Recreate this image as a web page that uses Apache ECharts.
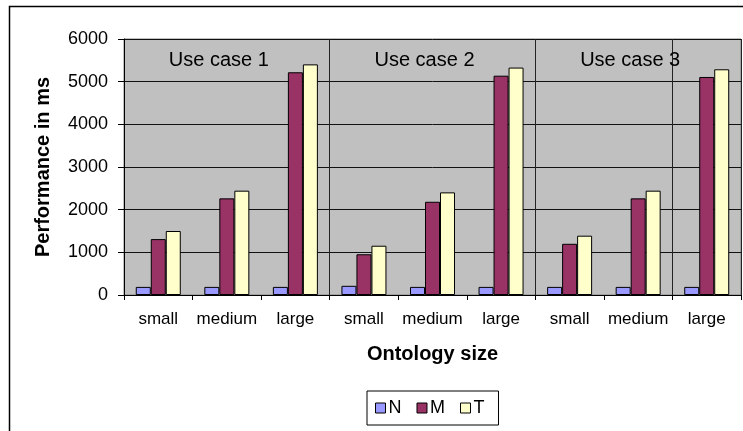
<!DOCTYPE html>
<html>
<head>
<meta charset="utf-8">
<script src="https://cdn.jsdelivr.net/npm/echarts@6/dist/echarts.min.js"></script>
<style>
html,body{margin:0;padding:0;background:#fff;}
#chart{width:743px;height:431px;}
</style>
</head>
<body>
<div id="chart"></div>
<script>
var categories = ['small','medium','large','small','medium','large','small','medium','large'];
var useCases = ['Use case 1','Use case 2','Use case 3'];
var seriesNames = ['N','M','T'];
var valuesN = [190, 190, 190, 215, 190, 190, 190, 190, 190];
var valuesM = [1310, 2265, 5220, 955, 2185, 5140, 1200, 2265, 5110];
var valuesT = [1500, 2445, 5405, 1155, 2405, 5330, 1390, 2445, 5290];
var yTicks = [0, 1000, 2000, 3000, 4000, 5000, 6000];
var colors = ['#9999FF', '#993366', '#FFFFCC'];

var font = 'Arial, "Liberation Sans", sans-serif';
var chart = echarts.init(document.getElementById('chart'), null, {renderer: 'canvas'});

function mkSeries(name, data, color) {
  return {
    name: name, type: 'bar', data: data, xAxisIndex: 0,
    barWidth: 15, barGap: '0%',
    itemStyle: {color: color, borderColor: '#000', borderWidth: 1},
    emphasis: {disabled: true}
  };
}

chart.setOption({
  animation: false,
  backgroundColor: '#fff',
  textStyle: {fontFamily: font},
  grid: {left: 124, right: 2, top: 39, bottom: 136, show: true,
         backgroundColor: '#C0C0C0', borderColor: '#808080', borderWidth: 1},
  legend: {
    data: seriesNames, left: 367, top: 391, orient: 'horizontal',
    itemWidth: 10, itemHeight: 10, itemGap: 15,
    padding: [8, 14, 8, 8],
    borderColor: '#000', borderWidth: 1,
    icon: 'rect',
    itemStyle: {borderColor: '#000', borderWidth: 1},
    textStyle: {fontSize: 18, color: '#000', fontFamily: font, padding: [0,0,0,-2]}
  },
  xAxis: [{
    type: 'category', data: categories, position: 'bottom',
    axisLine: {show: true, lineStyle: {color: '#000', width: 1}},
    axisTick: {show: true, length: 5, lineStyle: {color: '#000'}},
    axisLabel: {fontSize: 17, color: '#000', margin: 16, interval: 0},
    splitLine: {show: true, interval: 2, lineStyle: {color: '#222', width: 1}},
    name: 'Ontology size', nameLocation: 'middle', nameGap: 49,
    nameTextStyle: {fontSize: 20, fontWeight: 'bold', color: '#000'}
  }, {
    type: 'category', data: useCases, position: 'top',
    axisLine: {show: false}, axisTick: {show: false},
    axisLabel: {inside: true, fontSize: 20, color: '#000', margin: 11, interval: 0,
                padding: [0, 16, 0, 0]},
    splitLine: {show: false}
  }],
  yAxis: {
    type: 'value', min: 0, max: 6000, interval: 1000,
    axisLine: {show: true, lineStyle: {color: '#000', width: 1}},
    axisTick: {show: true, length: 6, lineStyle: {color: '#000'}},
    axisLabel: {fontSize: 18, color: '#000', margin: 16,
      formatter: function (v) { return yTicks.indexOf(v) >= 0 ? String(v) : ''; }},
    splitLine: {show: true, lineStyle: {color: '#111', width: 1}},
    name: 'Performance in ms', nameLocation: 'middle', nameRotate: 90, nameGap: 71,
    nameTextStyle: {fontSize: 20, fontWeight: 'bold', color: '#000'}
  },
  series: [
    mkSeries(seriesNames[0], valuesN, colors[0]),
    mkSeries(seriesNames[1], valuesM, colors[1]),
    mkSeries(seriesNames[2], valuesT, colors[2])
  ],
  graphic: [{
    type: 'rect', silent: true, z: 100,
    shape: {x: 9.5, y: 6.5, width: 800, height: 500},
    style: {fill: 'none', stroke: '#000', lineWidth: 1.5}
  }]
});
</script>
</body>
</html>
